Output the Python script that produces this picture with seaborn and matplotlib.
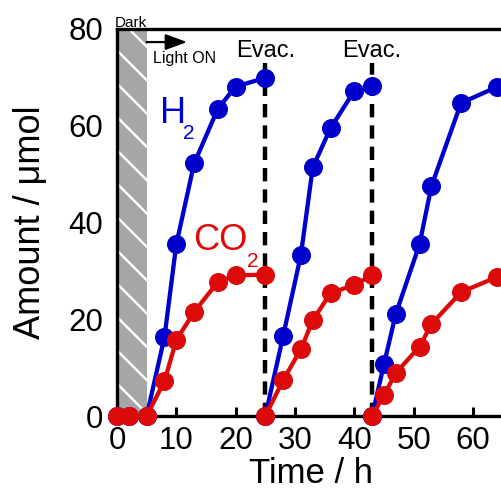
import matplotlib
matplotlib.use("Agg")
import matplotlib.pyplot as plt
import seaborn as sns
import pandas as pd

# ---- data ----
time_c1 = [0, 2, 5, 8, 10, 13, 17, 20, 25]
h2_c1 = [0, 0, 0, 16.3, 35.5, 52.2, 63.5, 68.1, 69.9]
co2_c1 = [0, 0, 0, 7.2, 15.7, 21.5, 27.7, 29.1, 29.2]

time_c2 = [25, 28, 31, 33, 36, 40, 43]
h2_c2 = [0, 16.5, 33.3, 51.4, 59.5, 67.2, 68.2]
co2_c2 = [0, 7.4, 13.8, 19.8, 25.4, 27.1, 29.1]

time_c3 = [43, 45, 47, 51, 53, 58, 64]
h2_c3 = [0, 10.7, 21.1, 35.5, 47.5, 64.7, 68.0]
co2_c3 = [0, 4.3, 8.9, 14.3, 19.0, 25.6, 28.7]

evac_times = [25, 43]
dark_period = [0, 5]
x_ticks = [0, 10, 20, 30, 40, 50, 60]
y_ticks = [0, 20, 40, 60, 80]

rows = []
for cyc, (t, h, c) in enumerate([(time_c1, h2_c1, co2_c1),
                                 (time_c2, h2_c2, co2_c2),
                                 (time_c3, h2_c3, co2_c3)]):
    for ti, hi in zip(t, h):
        rows.append({"time": ti, "amount": hi, "gas": "H2", "cycle": cyc})
    for ti, ci in zip(t, c):
        rows.append({"time": ti, "amount": ci, "gas": "CO2", "cycle": cyc})
df = pd.DataFrame(rows)

sns.set_style("ticks")
plt.rcParams["font.family"] = ["Liberation Sans", "DejaVu Sans"]
plt.rcParams["text.color"] = "black"
plt.rcParams["axes.labelcolor"] = "black"
plt.rcParams["xtick.color"] = "black"
plt.rcParams["ytick.color"] = "black"
plt.rcParams["axes.edgecolor"] = "black"
plt.rcParams["hatch.linewidth"] = 1.7

BLUE = "#0000CC"
RED = "#DD0A0A"

fig = plt.figure(figsize=(5.02, 4.91), dpi=100)
ax = fig.add_axes([117 / 502, 75 / 491, 385 / 502, 387 / 491])

# dark period
ax.axvspan(dark_period[0], dark_period[1], facecolor="#A6A6A6", edgecolor="white",
           hatch="\\", linewidth=0, zorder=1)

# evacuation lines
for t in evac_times:
    ax.axvline(t, ymin=0, ymax=73 / 80, color="black", lw=3.2,
               ls=(0, (3.0, 1.8)), zorder=1.5)
    ax.text(t, 74.2, "Evac.", fontsize=17, ha="center", va="baseline")

sns.lineplot(data=df, x="time", y="amount", hue="gas", units="cycle",
             estimator=None, sort=False, hue_order=["H2", "CO2"],
             palette={"H2": BLUE, "CO2": RED}, marker="o", markersize=13.7,
             markeredgewidth=0, linewidth=3.1, clip_on=False, legend=False,
             ax=ax, zorder=3)

ax.set_xlim(0, 64.9)
ax.set_ylim(0, 80)
ax.set_xticks(x_ticks)
ax.set_yticks(y_ticks)

for s in ["left", "bottom", "top"]:
    ax.spines[s].set_linewidth(2.4)
    ax.spines[s].set_color("black")
ax.spines["right"].set_visible(False)

ax.tick_params(axis="both", direction="in", length=6.5, width=2.2,
               labelsize=22.5, colors="black")
ax.tick_params(axis="x", pad=7)
ax.tick_params(axis="y", pad=10)

ax.set_xlabel("Time / h", fontsize=25, color="black")
ax.set_ylabel("Amount / μmol", fontsize=26, color="black")
ax.xaxis.set_label_coords(0.505, -0.106)
ax.yaxis.set_label_coords(-0.18, 0.5)

# species labels
ax.text(7.25, 60.5, "H", fontsize=26, color=BLUE, ha="left", va="baseline")
ax.text(11.2, 57.3, "2", fontsize=15, color=BLUE, ha="left", va="baseline")
ax.text(12.8, 34.3, "CO", fontsize=26, color=RED, ha="left", va="baseline")
ax.text(21.9, 30.8, "2", fontsize=15, color=RED, ha="left", va="baseline")

# dark / light annotations
ax.text(-0.35, 80.4, "Dark", fontsize=11, ha="left", va="baseline")
ax.annotate("", xy=(11.8, 77.3), xytext=(5.0, 77.3),
            arrowprops=dict(arrowstyle="-|>,head_length=0.65,head_width=0.24",
                            mutation_scale=20, color="black", lw=1.6,
                            shrinkA=0, shrinkB=0))
ax.text(6.07, 73.0, "Light ON", fontsize=11.5, ha="left", va="baseline")

fig.savefig("out.png", dpi=100)
